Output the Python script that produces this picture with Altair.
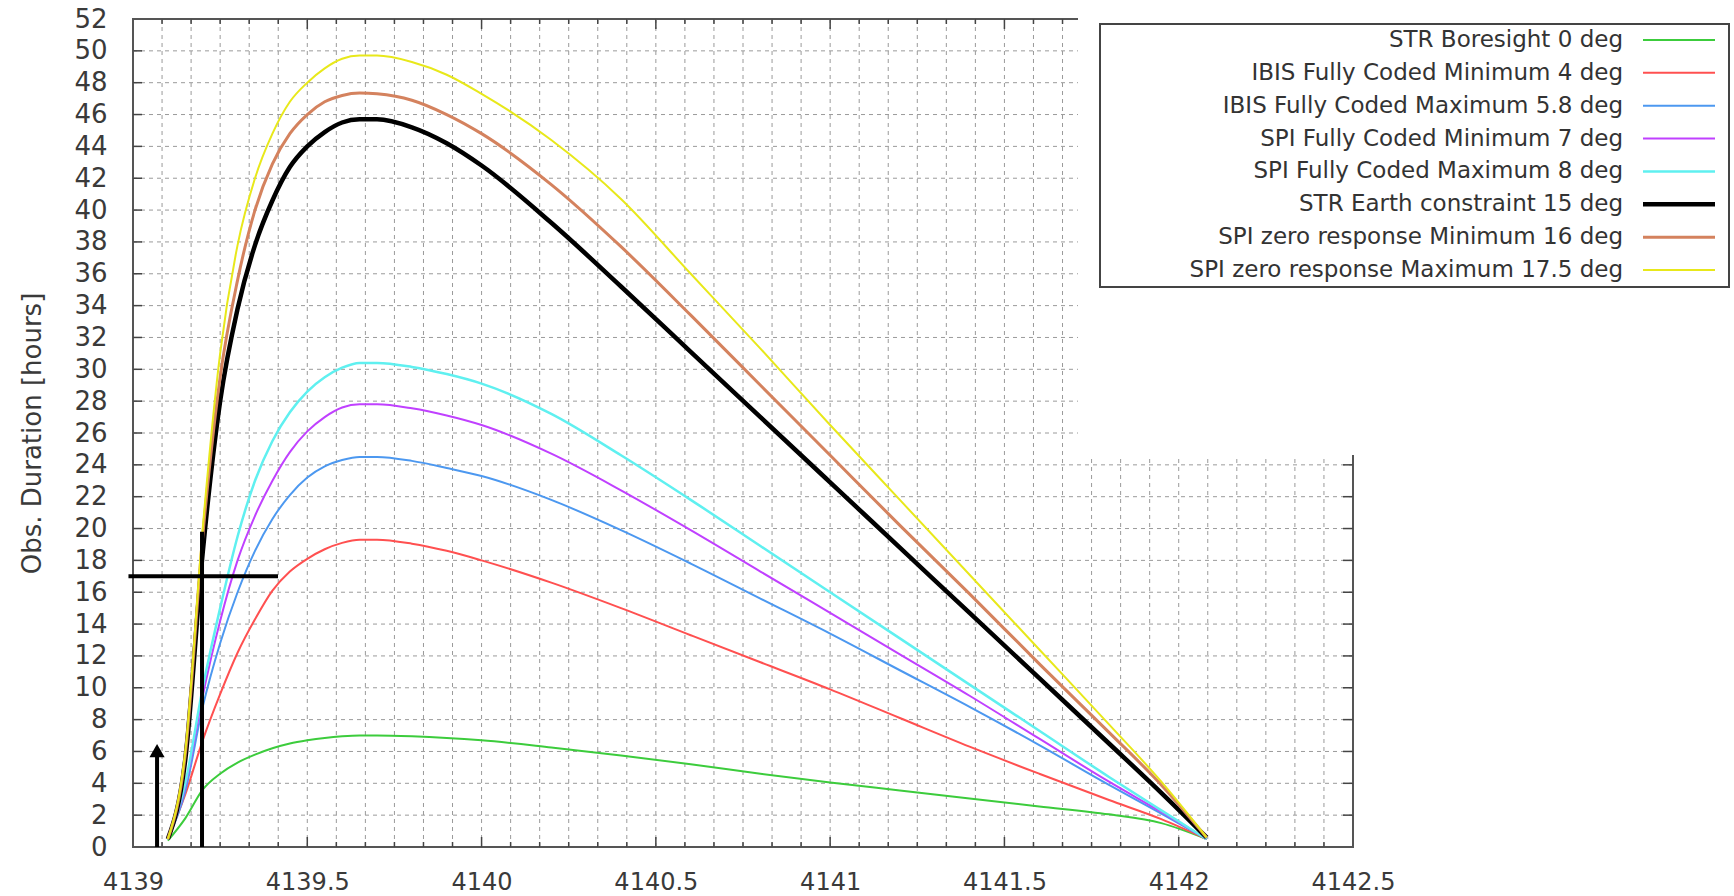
import altair as alt
import pandas as pd

# ---------------- data ----------------
X = [4139.10, 4139.15, 4139.20, 4139.25, 4139.30, 4139.35, 4139.40, 4139.45, 4139.50,
     4139.55, 4139.60, 4139.65, 4139.70, 4139.80, 4139.90, 4140.00, 4140.20, 4140.40,
     4140.60, 4140.80, 4141.00, 4141.20, 4141.40, 4141.60, 4141.80, 4141.95, 4142.08]

names = ["STR Boresight 0 deg",
         "IBIS Fully Coded Minimum 4 deg",
         "IBIS Fully Coded Maximum 5.8 deg",
         "SPI Fully Coded Minimum 7 deg",
         "SPI Fully Coded Maximum 8 deg",
         "STR Earth constraint 15 deg",
         "SPI zero response Minimum 16 deg",
         "SPI zero response Maximum 17.5 deg"]
colors = ["#3ccc3c", "#ff5050", "#4c98f0", "#c040ff", "#5ff0f0", "#000000", "#d4825e", "#e8e81a"]
widths = [2, 2, 2, 2, 2.5, 4.5, 3, 2]

y_green = [0.4, 1.8, 3.6, 4.6, 5.3, 5.8, 6.2, 6.5, 6.7, 6.85, 6.95, 7.0, 7.0, 6.95, 6.85, 6.7,
           6.25, 5.75, 5.2, 4.6, 4.05, 3.55, 3.05, 2.55, 2.05, 1.5, 0.5]
y_red = [0.5, 3.3, 6.7, 9.6, 12.2, 14.3, 16.1, 17.3, 18.1, 18.7, 19.1, 19.3, 19.3, 19.05, 18.6,
         18.0, 16.6, 15.0, 13.3, 11.6, 9.9, 8.1, 6.3, 4.6, 2.95, 1.75, 0.5]
y_blue = [0.5, 3.5, 8.8, 12.8, 16.0, 18.6, 20.6, 22.1, 23.2, 23.9, 24.3, 24.5, 24.5, 24.25, 23.8,
          23.3, 21.8, 19.9, 17.8, 15.6, 13.4, 11.1, 8.8, 6.4, 3.9, 2.1, 0.5]
y_purple = [0.5, 3.8, 9.5, 14.2, 18.0, 20.8, 23.0, 24.8, 26.1, 27.0, 27.6, 27.8, 27.8, 27.55, 27.1,
            26.5, 24.7, 22.4, 19.9, 17.3, 14.7, 12.1, 9.5, 6.8, 4.1, 2.2, 0.5]
y_cyan = [0.5, 4.0, 10.0, 15.0, 19.5, 23.0, 25.5, 27.3, 28.6, 29.5, 30.1, 30.4, 30.4, 30.15, 29.7,
          29.1, 27.2, 24.6, 21.8, 18.9, 16.0, 13.1, 10.2, 7.3, 4.4, 2.3, 0.5]
y_black = [0.5, 5.5, 18.5, 28.0, 33.8, 37.8, 40.6, 42.7, 44.0, 44.9, 45.5, 45.7, 45.7, 45.2, 44.2,
           42.8, 39.2, 35.2, 31.1, 27.0, 22.9, 18.8, 14.7, 10.6, 6.5, 3.4, 0.6]
y_brown = [0.5, 5.8, 19.5, 29.5, 35.6, 40.0, 42.9, 44.8, 46.0, 46.8, 47.2, 47.35, 47.3, 46.9, 46.0,
           44.8, 41.6, 37.7, 33.4, 29.0, 24.6, 20.2, 15.9, 11.5, 7.2, 3.9, 0.6]
y_yellow = [0.5, 6.0, 20.0, 31.0, 37.8, 42.0, 44.8, 46.8, 48.0, 48.9, 49.5, 49.7, 49.7, 49.3, 48.5,
            47.3, 44.4, 40.7, 36.0, 31.3, 26.5, 21.8, 17.1, 12.4, 7.7, 4.1, 0.6]
series_y = [y_green, y_red, y_blue, y_purple, y_cyan, y_black, y_brown, y_yellow]

x_labels = [4139.0, 4139.5, 4140.0, 4140.5, 4141.0, 4141.5, 4142.0, 4142.5]
x_minor = [4139 + i / 12 for i in range(1, 42)]
y_labels = list(range(0, 53, 2))

# annotation marks (crosshair and arrow)
cross_h_x = [4138.987, 4139.416]
cross_h_y = [17.0]
cross_v_x = [4139.198]
cross_v_y = [0.0, 19.8]
arrow_x = [4139.069]
arrow_y = [0.0, 5.7]
arrow_tip_y = [6.05]

# ---------------- layout ----------------
W, H = 1220, 828
FONT = "DejaVu Sans"
xs = alt.Scale(domain=[4139, 4142.5], nice=False, zero=False)
ys = alt.Scale(domain=[0, 52], nice=False, zero=False)

one = pd.DataFrame({"a": [0]})

x_axis = alt.Axis(values=x_labels, format=".1~f", labelFont=FONT, labelFontSize=24,
                  labelColor="#3a3a3a", labelPadding=42, labelBaseline="alphabetic",
                  ticks=False, tickSize=0, domain=False, grid=False, labelFlush=False,
                  labelOverlap=False, title=None)
y_axis = alt.Axis(values=y_labels, format="d", labelFont=FONT, labelFontSize=26,
                  labelColor="#3a3a3a", labelPadding=26, ticks=False, tickSize=0,
                  domain=False, grid=False, labelOverlap=False, title="Obs. Duration [hours]",
                  titleFont=FONT, titleFontSize=26, titleFontWeight="normal",
                  titleColor="#3a3a3a", titlePadding=28)


def XQ(field):
    return alt.X(field, type="quantitative", scale=xs, axis=x_axis)


def YQ(field):
    return alt.Y(field, type="quantitative", scale=ys, axis=y_axis)


grid_style = dict(color="#9a9a9a", strokeDash=[4, 4], strokeWidth=1)

xgrid = alt.Chart(pd.DataFrame({"v": x_minor})).mark_rule(**grid_style).encode(
    x=XQ("v"), y=alt.value(0), y2=alt.value(H))
ygrid = alt.Chart(pd.DataFrame({"v": y_labels[1:-1]})).mark_rule(**grid_style).encode(
    y=YQ("v"), x=alt.value(0), x2=alt.value(W))

x_major_inner = [v for v in x_labels[1:-1]]
x_minor_only = [v for v in x_minor if abs(v * 2 - round(v * 2)) > 1e-6]
tick_style = dict(color="#444444", strokeWidth=1.5)
ticks = []
for vals, ln in [(x_minor_only, 5), (x_major_inner, 10)]:
    d = pd.DataFrame({"v": vals})
    ticks.append(alt.Chart(d).mark_rule(**tick_style).encode(
        x=XQ("v"), y=alt.value(H), y2=alt.value(H - ln)))
    ticks.append(alt.Chart(d).mark_rule(**tick_style).encode(
        x=XQ("v"), y=alt.value(0), y2=alt.value(ln)))
dy = pd.DataFrame({"v": y_labels[1:-1]})
ticks.append(alt.Chart(dy).mark_rule(**tick_style).encode(
    y=YQ("v"), x=alt.value(0), x2=alt.value(9)))
ticks.append(alt.Chart(dy).mark_rule(**tick_style).encode(
    y=YQ("v"), x=alt.value(W), x2=alt.value(W - 10)))

lines = []
for nm, col, w, yv in zip(names, colors, widths, series_y):
    d = pd.DataFrame({"x": X, "y": yv})
    lines.append(alt.Chart(d).mark_line(color=col, strokeWidth=w, interpolate="monotone",
                                         clip=False).encode(x=XQ("x"), y=YQ("y")))

ann_style = dict(color="#000000", strokeWidth=4)
cross_h = alt.Chart(pd.DataFrame({"x1": [cross_h_x[0]], "x2": [cross_h_x[1]], "y": cross_h_y})).mark_rule(
    **ann_style).encode(x=XQ("x1"), x2="x2:Q", y=YQ("y"))
cross_v = alt.Chart(pd.DataFrame({"x": cross_v_x, "y1": [cross_v_y[0]], "y2": [cross_v_y[1]]})).mark_rule(
    **ann_style).encode(x=XQ("x"), y=YQ("y1"), y2="y2:Q")
arrow = alt.Chart(pd.DataFrame({"x": arrow_x, "y1": [arrow_y[0]], "y2": [arrow_y[1]]})).mark_rule(
    **ann_style).encode(x=XQ("x"), y=YQ("y1"), y2="y2:Q")
arrow_head = alt.Chart(pd.DataFrame({"x": arrow_x, "y": arrow_tip_y})).mark_point(
    shape="triangle-up", filled=True, size=230, color="#000000", opacity=1).encode(
    x=XQ("x"), y=YQ("y"))

cover = alt.Chart(one).mark_rect(color="white").encode(
    x=alt.value(945), x2=alt.value(W + 12), y=alt.value(-19), y2=alt.value(436))

legend_box = alt.Chart(one).mark_rect(fill="white", stroke="#444444", strokeWidth=2).encode(
    x=alt.value(967), x2=alt.value(1596), y=alt.value(5), y2=alt.value(268))

leg_df = pd.DataFrame({"name": names, "color": colors, "w": widths, "i": list(range(len(names)))})
leg_base = alt.Chart(leg_df).transform_calculate(ly="21 + datum.i * 32.86")
leg_text = leg_base.mark_text(align="right", baseline="middle", font=FONT, fontSize=23,
                              color="#333333").encode(
    x=alt.value(1490), y=alt.Y("ly:Q", scale=None), text="name:N")
leg_lines = leg_base.mark_rule().encode(
    x=alt.value(1510), x2=alt.value(1582), y=alt.Y("ly:Q", scale=None),
    color=alt.Color("color:N", scale=None), strokeWidth=alt.StrokeWidth("w:Q", scale=None))

chart = alt.layer(xgrid, ygrid, *ticks, *lines, cross_h, cross_v, arrow, arrow_head,
                  cover, legend_box, leg_text, leg_lines).properties(
    width=W, height=H,
    autosize=alt.AutoSizeParams(type="none"),
    padding={"left": 133, "top": 19, "right": 381, "bottom": 49},
    background="white",
).configure_view(stroke="#555555", strokeWidth=2)

chart.save("out.html", embed_options={"renderer": "svg", "actions": False})
